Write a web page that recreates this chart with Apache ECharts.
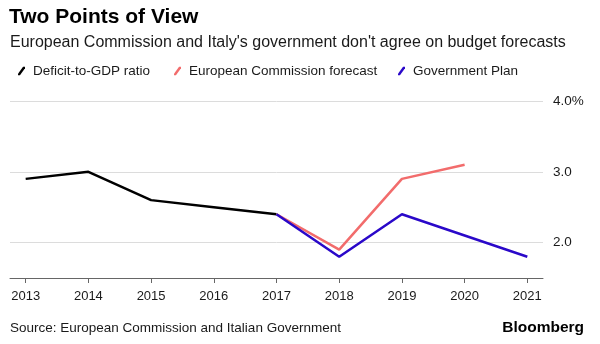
<!DOCTYPE html>
<html>
<head>
<meta charset="utf-8">
<script src="https://cdn.jsdelivr.net/npm/echarts@6/dist/echarts.min.js"></script>
<style>
  html, body { margin: 0; padding: 0; background: #fff; }
  #chart { width: 600px; height: 344px; }
</style>
</head>
<body>
<div id="chart"></div>
<script>
// Italy deficit-to-GDP ratio (% of GDP): history and two competing forecasts
const years = [2013, 2014, 2015, 2016, 2017, 2018, 2019, 2020, 2021];
const deficitYears = [2013, 2014, 2015, 2016, 2017];
const deficitValues = [2.9, 3.0, 2.6, 2.5, 2.4];
const commissionYears = [2017, 2018, 2019, 2020];
const commissionValues = [2.4, 1.9, 2.9, 3.1];
const planYears = [2017, 2018, 2019, 2020, 2021];
const planValues = [2.4, 1.8, 2.4, 2.1, 1.8];
const yTicks = [2, 3, 4];

const FONT = "'Liberation Sans', Arial, Helvetica, sans-serif";
const BLACK = '#000000';
const RED = '#f26c6c';
const BLUE = '#2a08c9';

const pairs = (xs, ys) => xs.map((x, i) => [x, ys[i]]);
// short diagonal stroke used as the legend marker
const slash = 'path://M0,12 L2.8,12 L10,2 L10,0 L7.2,0 L0,10 Z';

function legendAt(name, left) {
  return {
    data: [name],
    left: left,
    top: 64,
    icon: slash,
    itemWidth: 7,
    itemHeight: 10,
    itemGap: 0,
    padding: 0,
    textStyle: { fontFamily: FONT, fontSize: 13.5, color: '#1a1a1a', padding: [0, 0, 0, 3] }
  };
}

const chart = echarts.init(document.getElementById('chart'), null, { renderer: 'canvas' });
chart.setOption({
  animation: false,
  backgroundColor: '#ffffff',
  title: [
    {
      text: 'Two Points of View',
      left: 9, top: 7, padding: 0,
      textStyle: { fontFamily: FONT, fontSize: 21, fontWeight: 'bold', color: '#000' }
    },
    {
      text: "European Commission and Italy's government don't agree on budget forecasts",
      left: 10, top: 35, padding: 0,
      textStyle: { fontFamily: FONT, fontSize: 16, fontWeight: 'normal', color: '#1a1a1a' }
    },
    {
      text: 'Source: European Commission and Italian Government',
      left: 10, top: 321, padding: 0,
      textStyle: { fontFamily: FONT, fontSize: 13.5, fontWeight: 'normal', color: '#1a1a1a' }
    },
    {
      text: 'Bloomberg',
      right: 16, top: 320, padding: 0,
      textStyle: { fontFamily: FONT, fontSize: 15.5, fontWeight: 'bold', color: '#000' }
    }
  ],
  legend: [
    legendAt('Deficit-to-GDP ratio', 18),
    legendAt('European Commission forecast', 174),
    legendAt('Government Plan', 398)
  ],
  grid: { left: 10, right: 57, top: 101, bottom: 66 },
  xAxis: {
    type: 'value',
    min: 2012.75,
    max: 2021.25,
    splitLine: { show: false },
    axisLine: { show: true, lineStyle: { color: '#666', width: 1 } },
    axisTick: { show: true, customValues: years, length: 5, lineStyle: { color: '#666' } },
    axisLabel: {
      customValues: years,
      margin: 12,
      fontFamily: FONT, fontSize: 13, color: '#1a1a1a',
      formatter: v => String(v)
    }
  },
  yAxis: {
    type: 'value',
    position: 'right',
    min: 1.5,
    max: 4,
    axisLine: { show: false },
    axisTick: { show: false, customValues: yTicks },
    splitLine: { show: true, lineStyle: { color: '#dcdcdc', width: 1 } },
    axisLabel: {
      customValues: yTicks,
      margin: 10,
      fontFamily: FONT, fontSize: 13.5, color: '#1a1a1a',
      formatter: v => (v === 4 ? v.toFixed(1) + '%' : v.toFixed(1))
    }
  },
  series: [
    {
      name: 'Deficit-to-GDP ratio',
      type: 'line',
      data: pairs(deficitYears, deficitValues),
      symbol: 'none',
      lineStyle: { color: BLACK, width: 2.5 },
      itemStyle: { color: BLACK }
    },
    {
      name: 'European Commission forecast',
      type: 'line',
      data: pairs(commissionYears, commissionValues),
      symbol: 'none',
      lineStyle: { color: RED, width: 2.5 },
      itemStyle: { color: RED }
    },
    {
      name: 'Government Plan',
      type: 'line',
      data: pairs(planYears, planValues),
      symbol: 'none',
      lineStyle: { color: BLUE, width: 2.5 },
      itemStyle: { color: BLUE }
    }
  ]
});
</script>
</body>
</html>
